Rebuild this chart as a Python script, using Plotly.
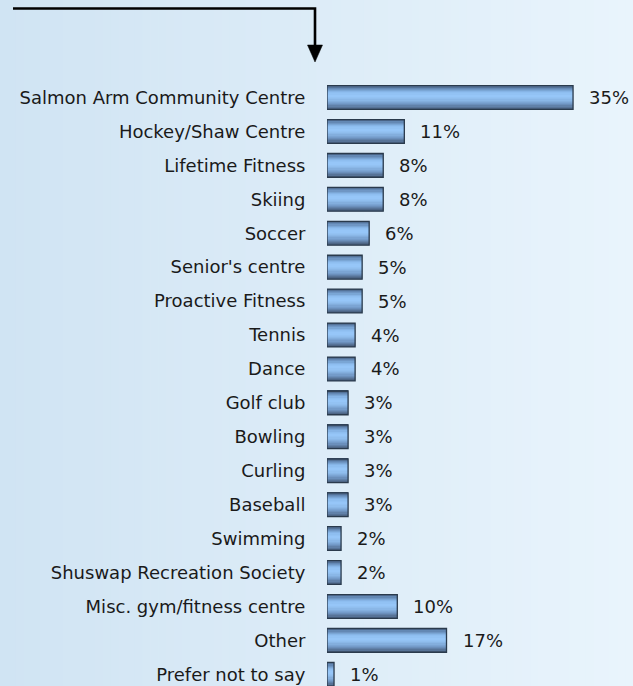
import plotly.graph_objects as go

categories = ["Salmon Arm Community Centre", "Hockey/Shaw Centre", "Lifetime Fitness", "Skiing",
              "Soccer", "Senior's centre", "Proactive Fitness", "Tennis", "Dance", "Golf club",
              "Bowling", "Curling", "Baseball", "Swimming", "Shuswap Recreation Society",
              "Misc. gym/fitness centre", "Other", "Prefer not to say"]
values = [35, 11, 8, 8, 6, 5, 5, 4, 4, 3, 3, 3, 3, 2, 2, 10, 17, 1]
value_labels = ["35%", "11%", "8%", "8%", "6%", "5%", "5%", "4%", "4%", "3%", "3%", "3%", "3%",
                "2%", "2%", "10%", "17%", "1%"]

W, H = 633, 686
ML = 327
positions = list(range(len(categories)))

FONT = "DejaVu Sans"


def lerp(c1, c2, t):
    return tuple(round(a + (b - a) * t) for a, b in zip(c1, c2))


def sample(stops, t):
    for (t0, c0), (t1, c1) in zip(stops, stops[1:]):
        if t0 <= t <= t1:
            return lerp(c0, c1, (t - t0) / (t1 - t0) if t1 > t0 else 0)
    return stops[-1][1]


fig = go.Figure()

# bar vertical gradient as thin overlaid strips
bar_h = 0.70
grad = [(0.0, (62, 82, 108)), (0.12, (98, 134, 178)), (0.3, (140, 188, 238)),
        (0.45, (152, 200, 250)), (0.6, (142, 188, 236)), (0.8, (112, 150, 196)),
        (1.0, (72, 94, 124))]
N = 20
for k in range(N):
    t = (k + 0.5) / N
    r, g, b = sample(grad, t)
    fig.add_trace(go.Bar(
        x=values, y=positions, orientation="h",
        width=bar_h / N + 0.004, offset=-bar_h / 2 + k * bar_h / N,
        marker=dict(color=f"rgb({r},{g},{b})", line=dict(width=0)),
        hoverinfo="skip", showlegend=False))

fig.add_trace(go.Bar(
    x=values, y=positions, orientation="h", width=bar_h,
    marker=dict(color="rgba(0,0,0,0)", line=dict(color="#2a3a4c", width=1.3)),
    showlegend=False, hoverinfo="skip"))

for p, v, lab in zip(positions, values, value_labels):
    fig.add_annotation(x=v, y=p, text=lab, showarrow=False, xanchor="left",
                       xshift=14, font=dict(family=FONT, size=18, color="#1a1a1a"))

# background gradient stripes
shapes = []
NS = 80
x0p = -ML / (W - ML)
left_c, right_c = (208, 228, 243), (233, 244, 252)
for i in range(NS):
    r, g, b = lerp(left_c, right_c, i / (NS - 1))
    shapes.append(dict(type="rect", xref="paper", yref="paper", layer="below",
                       x0=x0p + (1 - x0p) * i / NS, x1=x0p + (1 - x0p) * (i + 1) / NS + 0.002,
                       y0=0, y1=1, line=dict(width=0), fillcolor=f"rgb({r},{g},{b})"))


def px(p):
    return (p - ML) / (W - ML)


def py(p):
    return 1 - p / H


shapes.append(dict(type="path", xref="paper", yref="paper",
                   path=f"M {px(13)} {py(8.5)} L {px(315)} {py(8.5)} L {px(315)} {py(47)}",
                   line=dict(color="black", width=2.6)))
shapes.append(dict(type="path", xref="paper", yref="paper",
                   path=f"M {px(307.5)} {py(45)} L {px(322.5)} {py(45)} L {px(315)} {py(62)} Z",
                   line=dict(color="black", width=0.5), fillcolor="black"))

row0, step = 97.5, 33.93
y_top = -row0 / step
y_bot = (H - row0) / step

fig.update_layout(
    width=W, height=H, barmode="overlay",
    margin=dict(l=ML, r=0, t=0, b=0),
    paper_bgcolor="rgb(220,236,248)", plot_bgcolor="rgba(0,0,0,0)",
    shapes=shapes,
    xaxis=dict(range=[0, (W - ML) / 7.03], visible=False, fixedrange=True),
    yaxis=dict(range=[y_bot, y_top], tickvals=positions, ticktext=categories,
               ticks="outside", ticklen=17, tickcolor="rgba(0,0,0,0)",
               showgrid=False, zeroline=False, showline=False,
               tickfont=dict(family=FONT, size=18, color="#1a1a1a")),
)

fig.write_html("out.html")
